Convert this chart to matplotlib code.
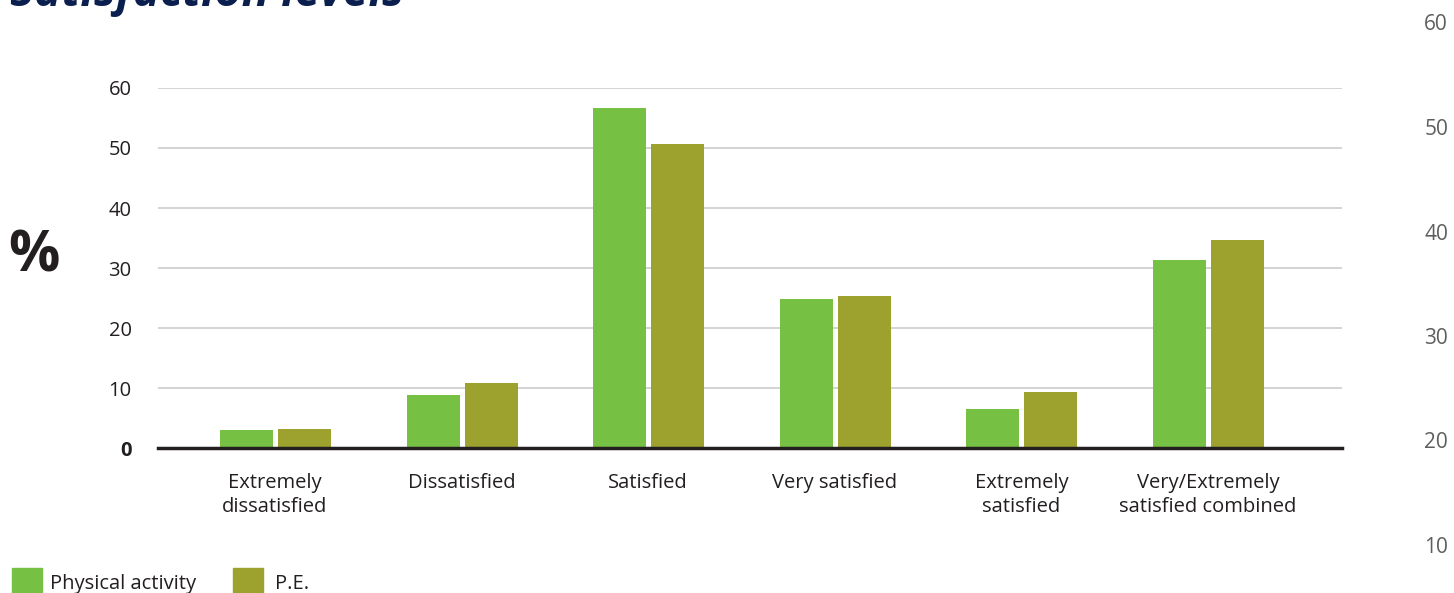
import matplotlib
matplotlib.use('Agg')
import matplotlib.pyplot as plt
import numpy as np

categories = ['Extremely\ndissatisfied', 'Dissatisfied', 'Satisfied',
              'Very satisfied', 'Extremely\nsatisfied', 'Very/Extremely\nsatisfied combined']
physical_activity = [3.0, 8.8, 56.7, 24.8, 6.5, 31.3]
pe = [3.2, 10.8, 50.7, 25.3, 9.3, 34.7]
series_names = ['Physical activity', 'P.E.']
y_ticks = [0, 10, 20, 30, 40, 50, 60]
stray_ticks = [60, 50, 40, 30, 20, 10]

green = '#76c043'
olive = '#9ca22d'
dark = '#231f20'

plt.rcParams['font.family'] = ['Open Sans', 'DejaVu Sans']

fig = plt.figure(figsize=(14.54, 5.93), dpi=100)
ax = fig.add_axes([158 / 1454, 145 / 593, 1184 / 1454, 360 / 593])

x = np.arange(len(categories))
bw = 0.284
ax.bar(x - 0.153, physical_activity, bw, color=green, zorder=3)
ax.bar(x + 0.158, pe, bw, color=olive, zorder=3)

ax.set_xlim(-0.627, 5.718)
ax.set_ylim(0, 60)
ax.set_yticks(y_ticks)
ax.set_yticklabels([str(t) for t in y_ticks], fontsize=14.5, color=dark)
ax.get_yticklabels()[0].set_fontweight('bold')
ax.yaxis.grid(True, color='#cccccc', linewidth=1.2, zorder=0)
ax.tick_params(axis='y', length=0, pad=19)
ax.set_xticks(x)
ax.set_xticklabels(categories, fontsize=14.5, color=dark, linespacing=1.3)
ax.tick_params(axis='x', length=0, pad=18)
for s in ['top', 'right', 'left']:
    ax.spines[s].set_visible(False)
ax.spines['bottom'].set_color(dark)
ax.spines['bottom'].set_linewidth(2.5)
ax.spines['bottom'].set_zorder(4)

fig.text(8 / 1454, 1 - 257 / 593, '%', fontsize=41, fontweight='bold',
         color=dark, va='center', ha='left')

# title sits partly above the top edge, as in the source image
fig.text(10 / 1454, 1 - 6 / 593, 'Satisfaction levels', fontsize=33, fontweight='bold',
         fontstyle='italic', color='#0b1f4f', va='baseline', ha='left')

# stray axis labels at the right edge
for i, v in enumerate(stray_ticks):
    fig.text(1448 / 1454, 1 - (25 + i * 104.5) / 593, str(v), fontsize=15,
             color='#5e5e5e', ha='right', va='center')

# legend at the bottom
fig.patches.append(plt.Rectangle((12 / 1454, 0), 30 / 1454, 25 / 593,
                                 transform=fig.transFigure, color=green))
fig.text(50 / 1454, 4 / 593, series_names[0], fontsize=14.5, color=dark, va='baseline')
fig.patches.append(plt.Rectangle((233 / 1454, 0), 30 / 1454, 25 / 593,
                                 transform=fig.transFigure, color=olive))
fig.text(275 / 1454, 4 / 593, series_names[1], fontsize=14.5, color=dark, va='baseline')

fig.savefig('out.png', dpi=100)
